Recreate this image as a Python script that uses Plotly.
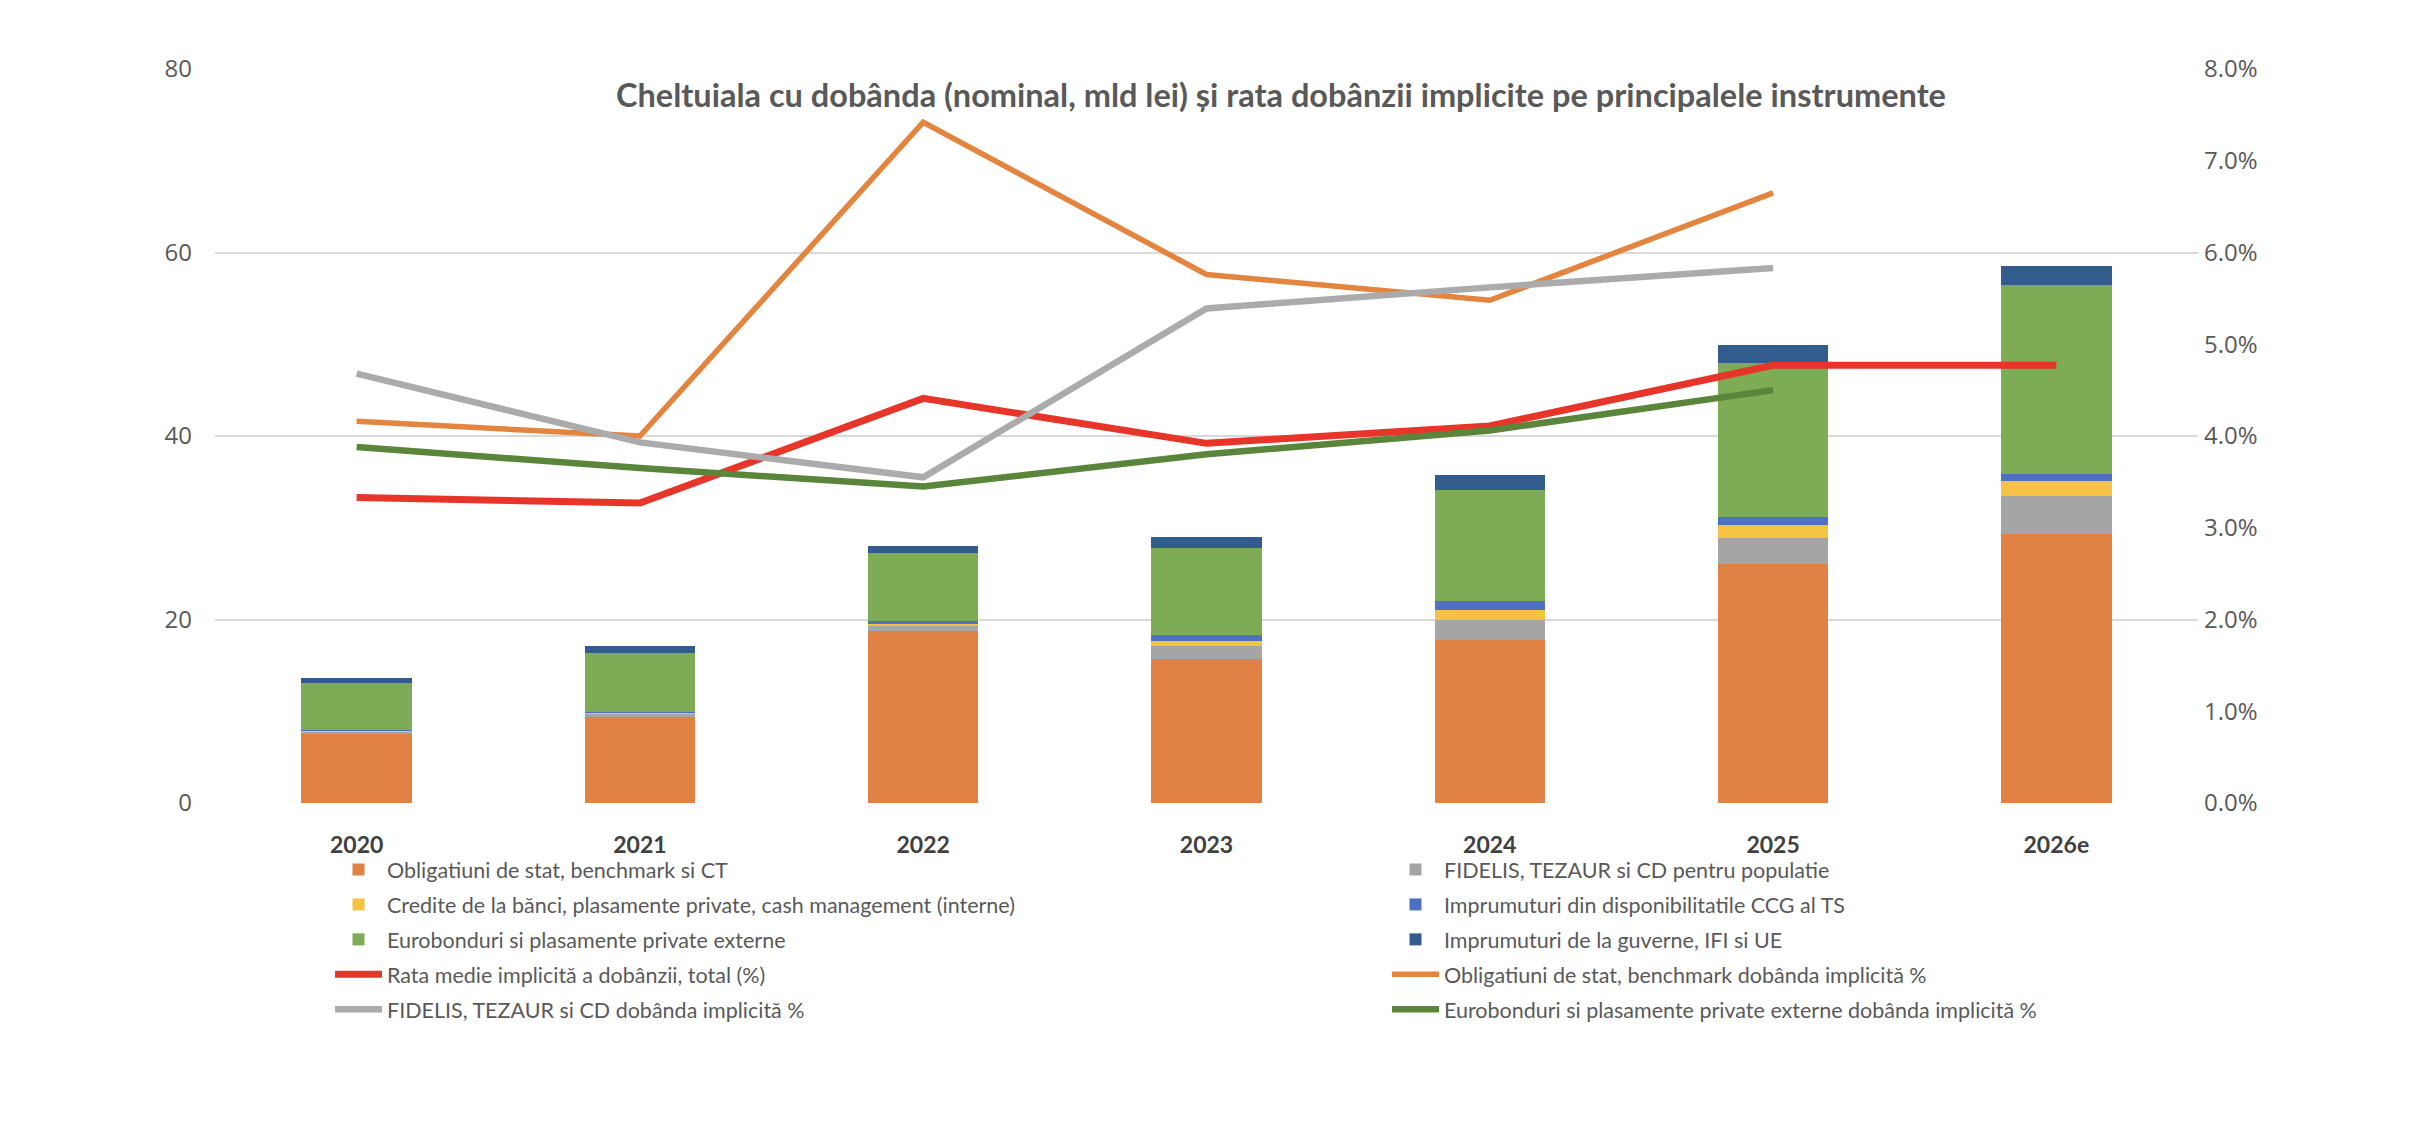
import plotly.graph_objects as go

W, H = 2420, 1132

years = ["2020", "2021", "2022", "2023", "2024", "2025", "2026e"]

# Stacked bars (mld lei)
obligatiuni = [7.5, 9.4, 18.8, 15.7, 17.8, 26.0, 29.3]
fidelis = [0.3, 0.4, 0.6, 1.4, 2.1, 2.9, 4.2]
credite = [0.1, 0.05, 0.2, 0.6, 1.1, 1.4, 1.6]
ccg = [0.05, 0.02, 0.2, 0.6, 1.0, 0.9, 0.8]
eurobonduri = [5.1, 6.5, 7.5, 9.5, 12.1, 16.8, 20.6]
guverne = [0.6, 0.7, 0.7, 1.2, 1.6, 1.9, 2.0]

# Lines (implicit rate, fraction)
rata_total = [0.0333, 0.0327, 0.0441, 0.0392, 0.0411, 0.0477, 0.0477]
rata_oblig = [0.0416, 0.0400, 0.0742, 0.0576, 0.0548, 0.0665, None]
rata_fidelis = [0.0468, 0.0393, 0.0355, 0.0539, 0.0562, 0.0583, None]
rata_euro = [0.0388, 0.0365, 0.0345, 0.0380, 0.0406, 0.0450, None]

bar_series = [
    ("Obligatiuni de stat, benchmark si CT", obligatiuni, "#DF8244", "legend"),
    ("FIDELIS, TEZAUR si CD pentru populatie", fidelis, "#A5A5A5", "legend2"),
    ("Credite de la bănci, plasamente private, cash management (interne)", credite, "#F5C243", "legend"),
    ("Imprumuturi din disponibilitatile CCG al TS", ccg, "#4E70BE", "legend2"),
    ("Eurobonduri si plasamente private externe", eurobonduri, "#7EAB55", "legend"),
    ("Imprumuturi de la guverne, IFI si UE", guverne, "#335C8E", "legend2"),
]

line_series = [
    ("Rata medie implicită a dobânzii, total (%)", rata_total, "#E8352A", 7, "legend"),
    ("Obligatiuni de stat, benchmark dobânda implicită %", rata_oblig, "#E3843F", 5.5, "legend2"),
    ("FIDELIS, TEZAUR si CD dobânda implicită %", rata_fidelis, "#ABABAB", 6.5, "legend"),
    ("Eurobonduri si plasamente private externe dobânda implicită %", rata_euro, "#5A853A", 6.5, "legend2"),
]

fig = go.Figure()
for i, (name, vals, col, lg) in enumerate(bar_series):
    fig.add_trace(go.Bar(
        x=years, y=vals, name=name, marker=dict(color=col, line=dict(width=0)),
        legend=lg, legendgroup=f"b{i}", yaxis="y",
    ))
for j, (name, vals, col, wd, lg) in enumerate(line_series):
    fig.add_trace(go.Scatter(
        x=years, y=vals, name=name, mode="lines",
        line=dict(color=col, width=wd), legend=lg, legendgroup=f"l{j}",
        yaxis="y2", connectgaps=False,
    ))

tick_font = dict(family="Open Sans", size=24, color="#595959")
leg_font = dict(family="Lato", size=21.5, color="#595959")

plot_l, plot_r, plot_t, plot_b = 215, 2198, 69, 803

fig.update_layout(
    width=W, height=H,
    margin=dict(l=plot_l, r=W - plot_r, t=plot_t, b=H - plot_b, pad=0, autoexpand=False),
    paper_bgcolor="white", plot_bgcolor="white",
    barmode="stack", bargap=0.61,
    title=dict(
        text="<b>Cheltuiala cu dobânda (nominal, mld lei) și rata dobânzii implicite pe principalele instrumente</b>",
        font=dict(family="Lato", size=32.5, color="#595959"),
        x=1281 / W, xanchor="center", xref="container",
        y=1 - 96 / H, yanchor="middle", yref="container",
    ),
    xaxis=dict(
        type="category", showgrid=False, showline=False, ticks="",
        tickfont=dict(family="Lato", size=23, color="#404040", weight="bold"),
        ticklabelstandoff=26, tickangle=0, automargin=False,
    ),
    yaxis=dict(
        range=[0, 80], tickvals=[0, 20, 40, 60, 80], showgrid=True,
        gridcolor="#D9D9D9", gridwidth=2, zeroline=False, showline=False,
        tickfont=tick_font, ticks="", ticklabelstandoff=22, automargin=False,
    ),
    yaxis2=dict(
        range=[0, 0.08], dtick=0.01, tick0=0, tickformat=".1%", overlaying="y",
        side="right", showgrid=False, zeroline=False, showline=False,
        tickfont=tick_font, ticks="", ticklabelstandoff=5, automargin=False,
    ),
    legend=dict(
        orientation="v", xref="container", yref="container",
        x=330 / W, xanchor="left", y=1 - 849 / H, yanchor="top",
        font=leg_font, itemwidth=47, tracegroupgap=4,
        bgcolor="rgba(0,0,0,0)", traceorder="grouped",
    ),
    legend2=dict(
        orientation="v", xref="container", yref="container",
        x=1387 / W, xanchor="left", y=1 - 849 / H, yanchor="top",
        font=leg_font, itemwidth=47, tracegroupgap=4,
        bgcolor="rgba(0,0,0,0)", traceorder="grouped",
    ),
    showlegend=True,
)

fig.write_html("out.html")
